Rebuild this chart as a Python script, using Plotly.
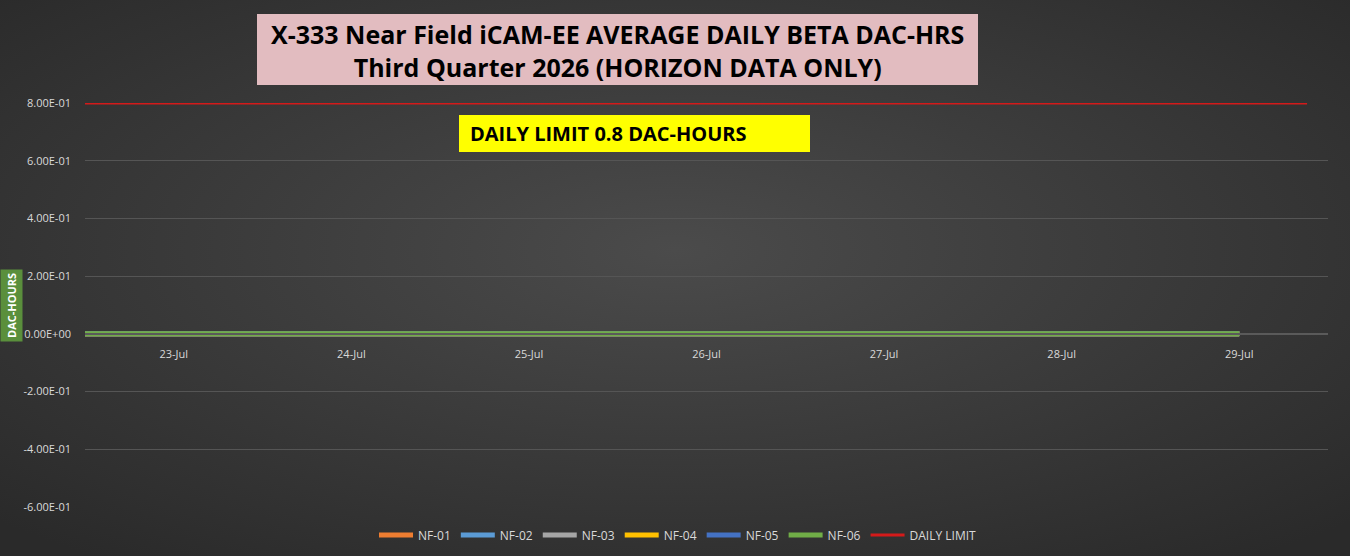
import base64

import plotly.graph_objects as go

# data
nf_dates = ["2026-07-22 12:00", "2026-07-23", "2026-07-24", "2026-07-25",
            "2026-07-26", "2026-07-27", "2026-07-28", "2026-07-29"]
nf01 = [0, 0, 0, 0, 0, 0, 0, 0]
nf02 = [0, 0, 0, 0, 0, 0, 0, 0]
nf03 = [0, 0, 0, 0, 0, 0, 0, 0]
nf04 = [0, 0, 0, 0, 0, 0, 0, 0]
nf05 = [0, 0, 0, 0, 0, 0, 0, 0]
nf06 = [0, 0, 0, 0, 0, 0, 0, 0]
limit_dates = ["2026-07-22 12:00", "2026-07-29 09:10"]
limit_vals = [0.8, 0.8]

tick_dates = ["2026-07-23", "2026-07-24", "2026-07-25", "2026-07-26",
              "2026-07-27", "2026-07-28", "2026-07-29"]
tick_labels = ["23-Jul", "24-Jul", "25-Jul", "26-Jul", "27-Jul", "28-Jul", "29-Jul"]
y_ticks = [-0.6, -0.4, -0.2, 0.0, 0.2, 0.4, 0.6, 0.8]
y_labels = ["-6.00E-01", "-4.00E-01", "-2.00E-01", "0.00E+00",
            "2.00E-01", "4.00E-01", "6.00E-01", "8.00E-01"]

series = [
    ("NF-01", nf01, "#ED7D31"),
    ("NF-02", nf02, "#5B9BD5"),
    ("NF-03", nf03, "#A5A5A5"),
    ("NF-04", nf04, "#FFC000"),
    ("NF-05", nf05, "#4472C4"),
    ("NF-06", nf06, "#70AD47"),
]

fig = go.Figure()
for name, vals, color in series:
    fig.add_trace(go.Scatter(x=nf_dates, y=vals, name=name, mode="lines",
                             line=dict(color=color, width=5)))
fig.add_trace(go.Scatter(x=limit_dates, y=limit_vals, name="DAILY LIMIT",
                         mode="lines", line=dict(color="#d41a1a", width=3)))

# dark radial background like the excel chart style
svg = """<svg xmlns='http://www.w3.org/2000/svg' width='1350' height='556'>
<defs><radialGradient id='g' cx='0.5' cy='0.45' r='0.7'>
<stop offset='0' stop-color='#4b4b4b'/><stop offset='1' stop-color='#2a2a2a'/>
</radialGradient></defs><rect width='1350' height='556' fill='url(#g)'/></svg>"""
bg = "data:image/svg+xml;base64," + base64.b64encode(svg.encode()).decode()

pw, ph = 1243, 404
fig.add_layout_image(source=bg, xref="paper", yref="paper",
                     x=-85 / pw, y=507 / ph, sizex=1350 / pw, sizey=556 / ph,
                     xanchor="left", yanchor="top", sizing="stretch", layer="below")

# title box
fig.add_shape(type="rect", xref="paper", yref="paper",
              x0=(257 - 85) / pw, x1=(978 - 85) / pw,
              y0=(507 - 85) / ph, y1=(507 - 14) / ph,
              fillcolor="#e2bcc0", line=dict(width=0), layer="above")
fig.add_annotation(xref="paper", yref="paper", x=(617 - 85) / pw, y=(507 - 50) / ph,
                   text="<b>X-333 Near Field iCAM-EE AVERAGE DAILY BETA DAC-HRS<br>"
                        "Third Quarter 2026 (HORIZON DATA ONLY)</b>",
                   showarrow=False, font=dict(family="Open Sans", size=25, color="black"),
                   xanchor="center", yanchor="middle")

# daily limit label
fig.add_shape(type="rect", xref="paper", yref="paper",
              x0=(459 - 85) / pw, x1=(810 - 85) / pw,
              y0=(507 - 152) / ph, y1=(507 - 115) / ph,
              fillcolor="#FFFF00", line=dict(width=0), layer="above")
fig.add_annotation(xref="paper", yref="paper", x=(468 - 85) / pw, y=(507 - 134) / ph,
                   text="<b>DAILY LIMIT 0.8 DAC-HOURS</b>", showarrow=False,
                   font=dict(family="Open Sans", size=20, color="black"),
                   xanchor="left", yanchor="middle")

# y axis title
fig.add_annotation(xref="paper", yref="paper", x=(11 - 85) / pw, y=(507 - 306) / ph,
                   text="<b>DAC-HOURS</b>", textangle=-90, showarrow=False,
                   xanchor="center", yanchor="middle",
                   bgcolor="#5a8f3c", borderpad=3,
                   font=dict(family="Open Sans", size=11, color="white"))

fig.update_layout(
    width=1350, height=556,
    margin=dict(l=85, r=22, t=103, b=49, autoexpand=False),
    paper_bgcolor="#3c3c3c", plot_bgcolor="rgba(0,0,0,0)",
    font=dict(family="Open Sans", color="#d9d9d9", size=11),
    showlegend=True,
    legend=dict(orientation="h", xanchor="center", x=(678 - 85) / pw, yanchor="middle",
                y=-28 / ph, font=dict(size=12, color="#d9d9d9"),
                bgcolor="rgba(0,0,0,0)", itemwidth=34),
    xaxis=dict(type="date", range=["2026-07-22 12:00", "2026-07-29 12:00"],
               tickvals=tick_dates, ticktext=tick_labels, showgrid=False,
               zeroline=False, showline=True, linecolor="#5a5a5a", linewidth=1.5,
               anchor="free", position=(507 - 334) / ph, ticks="",
               ticklabelstandoff=10, tickfont=dict(size=11, color="#d9d9d9")),
    yaxis=dict(range=[-0.6, 0.8], tickvals=y_ticks, ticktext=y_labels,
               showgrid=True, gridcolor="#555555", gridwidth=1, zeroline=False,
               showline=False, ticks="", ticklabelstandoff=13,
               tickfont=dict(size=11, color="#d9d9d9")),
)

fig.write_html("out.html", config={"displayModeBar": False},
               post_script="document.body.style.margin='0';"
                           "document.body.style.overflow='hidden';")
